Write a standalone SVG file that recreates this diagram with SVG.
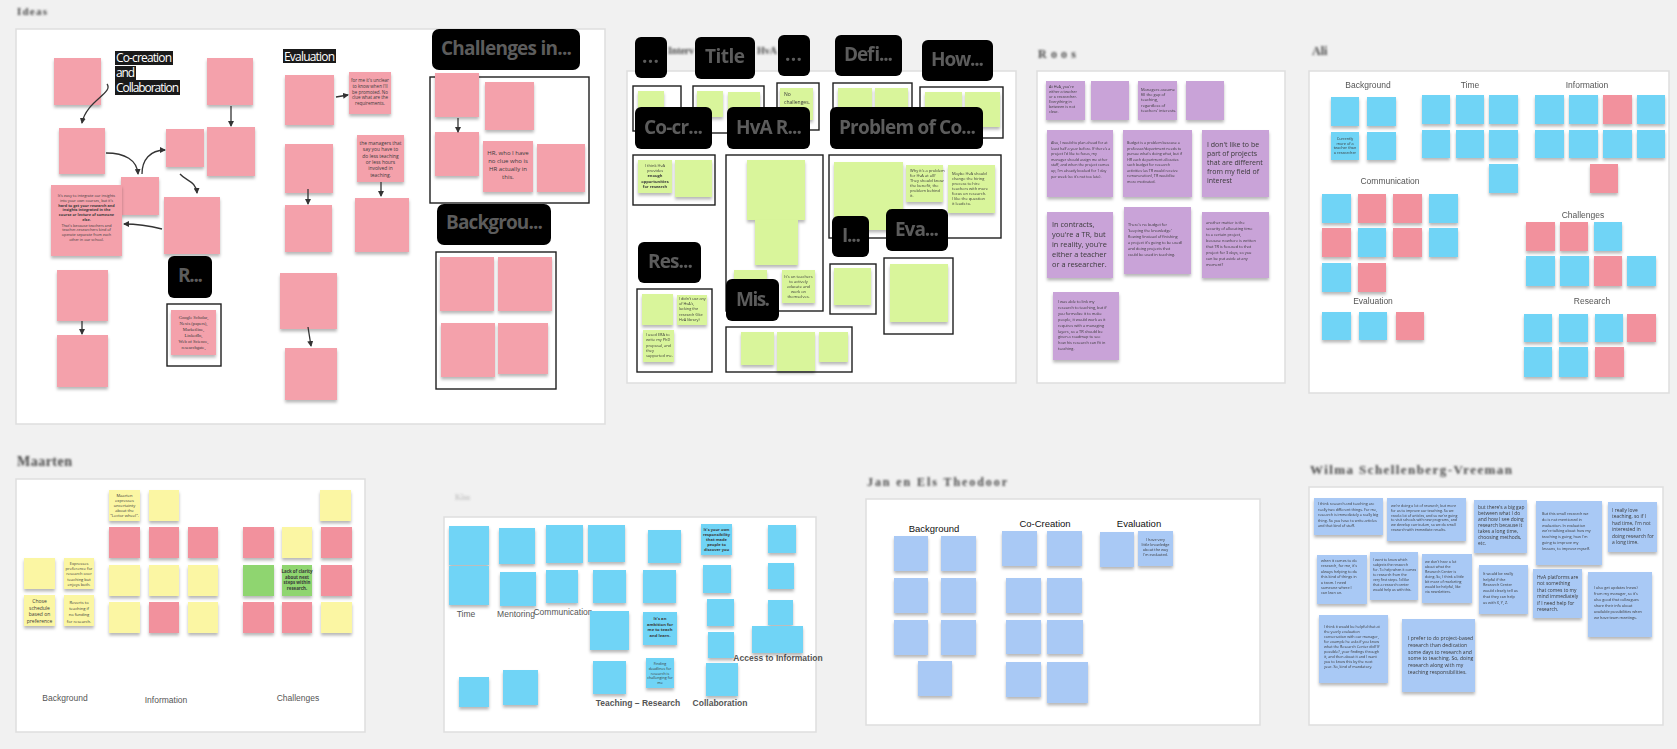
<svg xmlns="http://www.w3.org/2000/svg" width="1677" height="749" viewBox="0 0 1677 749">
<defs>
<style>
.bg{fill:#f1f1f1}
.bd{fill:#fff;stroke:#dedede;stroke-width:1.5}
.n{filter:url(#ds)}
.pk{fill:#f4a1ab}.pk2{fill:#f2919d}.gr{fill:#d9f59b}.pu{fill:#c9a3d8}.cy{fill:#6fd4f6}.lb{fill:#a9c9f5}.ye{fill:#fbf6a3}.gn{fill:#8fd570}
.fr{fill:none;stroke:#1e1e1e;stroke-width:1.4}
.bx{fill:#000}
.bt{fill:#5c5c5c;font-family:"Open Sans","Liberation Sans",sans-serif;font-weight:700;font-size:19px}
.hl{fill:#1a1a1a}
.ht{fill:#fff;font-family:"Open Sans","Liberation Sans",sans-serif;font-size:12px}
.lbl{fill:#555;font-family:"Liberation Sans",Arial,sans-serif;font-size:8.5px}
.lbk{fill:#111;font-family:"Liberation Sans",Arial,sans-serif;font-size:9.5px}
.t{fill:#3a3a3a;font-family:"Open Sans","Liberation Sans",sans-serif}
.ts{fill:#3a3a3a;font-family:"Liberation Serif","Times New Roman",serif}
.c{stroke:#333;stroke-width:1.3;fill:none;marker-end:url(#ah)}
.ttl{fill:#4a4a4a;font-family:"Liberation Serif","Times New Roman",serif;font-weight:700}
</style>
<filter id="ds" x="-20%" y="-20%" width="140%" height="150%"><feDropShadow dx="0" dy="2.5" stdDeviation="1.6" flood-color="#000" flood-opacity="0.28"/></filter>
<filter id="bl" x="-10%" y="-60%" width="120%" height="220%"><feGaussianBlur stdDeviation="1.1"/></filter>
<marker id="ah" markerWidth="6" markerHeight="6" refX="5" refY="3" orient="auto" markerUnits="userSpaceOnUse"><path d="M0,0 L6,3 L0,6 z" fill="#333"/></marker>
</defs>
<rect class="bg" x="0" y="0" width="1677" height="749"/>

<!-- board titles (blurred in reference) -->
<g id="titles" filter="url(#bl)">
<text class="ttl" x="17" y="15" font-size="11" textLength="30">Ideas</text>
<text class="ttl" x="668" y="54" font-size="10" textLength="26">Interv</text>
<text class="ttl" x="757" y="54" font-size="10" textLength="20">HvA</text>
<text class="ttl" x="1038" y="58" font-size="12" textLength="38">Roos</text>
<text class="ttl" x="1312" y="55" font-size="12">Ali</text>
<text class="ttl" x="17" y="466" font-size="14" textLength="55">Maarten</text>
<text class="ttl" x="455" y="500" font-size="8" opacity="0.25">Kim</text>
<text class="ttl" x="867" y="486" font-size="12" textLength="140">Jan en Els Theodoor</text>
<text class="ttl" x="1310" y="474" font-size="13" textLength="202">Wilma Schellenberg-Vreeman</text>
</g>

<!-- ================= BOARD 1 ================= -->
<g id="board1">
<rect class="bd" x="16" y="29" width="589" height="395"/>
<g id="b1-label-cocreation">
<rect class="hl" x="115" y="51" width="58" height="14"/><rect class="hl" x="115" y="66" width="21" height="14"/><rect class="hl" x="115" y="80" width="65" height="15"/>
<text class="ht" x="116" y="62" textLength="56">Co-creation</text>
<text class="ht" x="116" y="77" textLength="19">and</text>
<text class="ht" x="116" y="92" textLength="63">Collaboration</text>
</g>
<g id="b1-label-evaluation"><rect class="hl" x="283" y="49" width="53" height="14"/><text class="ht" x="284" y="60.5" textLength="51">Evaluation</text></g>
<g id="b1-n01"><rect class="n pk" x="54" y="58" width="47" height="47"/></g>
<g id="b1-n02"><rect class="n pk" x="59" y="128" width="46" height="46"/></g>
<g id="b1-n03"><rect class="n pk" x="207" y="58" width="46" height="47"/></g>
<g id="b1-n04"><rect class="n pk" x="207" y="127" width="48" height="49"/></g>
<g id="b1-n05"><rect class="n pk" x="166" y="129" width="38" height="38"/></g>
<g id="b1-n06"><rect class="n pk" x="121" y="177" width="38" height="38"/></g>
<g id="b1-n07"><rect class="n pk" x="51" y="185" width="71" height="71"/>
<text class="t" font-size="3.8" text-anchor="middle" x="86.5" y="197"><tspan x="86.5">It's easy to integrate our insights</tspan><tspan x="86.5" dy="4.8">into your own courses, but it's</tspan><tspan x="86.5" dy="4.8" font-weight="700">hard to get your research and</tspan><tspan x="86.5" dy="4.8" font-weight="700">insights integrated in the</tspan><tspan x="86.5" dy="4.8" font-weight="700">course or lecture of someone</tspan><tspan x="86.5" dy="4.8" font-weight="700">else.</tspan><tspan x="86.5" dy="5.6">That's because teachers and</tspan><tspan x="86.5" dy="4.8">teacher-researchers kind of</tspan><tspan x="86.5" dy="4.8">operate separate from each</tspan><tspan x="86.5" dy="4.8">other in our school.</tspan></text></g>
<g id="b1-n08"><rect class="n pk" x="164" y="197" width="56" height="57"/></g>
<g id="b1-n09"><rect class="n pk" x="57" y="270" width="51" height="51"/></g>
<g id="b1-n10"><rect class="n pk" x="57" y="335" width="51" height="52"/></g>
<g id="b1-box-r"><rect class="bx" x="168" y="256" width="44" height="42" rx="6"/><text class="bt" x="178" y="282" textLength="25">R...</text></g>
<g id="b1-frame-r"><rect class="fr" x="167" y="304" width="54" height="62"/>
<rect class="n pk" x="171" y="310" width="45" height="45"/>
<text class="ts" font-size="4.6" text-anchor="middle" x="193.5" y="319"><tspan x="193.5">Google Scholar,</tspan><tspan x="193.5" dy="6">Nexis (papers),</tspan><tspan x="193.5" dy="6">Marketline,</tspan><tspan x="193.5" dy="6">LinkedIn,</tspan><tspan x="193.5" dy="6">Web of Science,</tspan><tspan x="193.5" dy="6">researchgate,</tspan></text></g>
<g id="b1-n11"><rect class="n pk" x="285" y="75" width="49" height="50"/></g>
<g id="b1-n12"><rect class="n pk" x="349" y="72" width="42" height="42"/>
<text class="t" font-size="4.5" text-anchor="middle" x="370" y="82"><tspan x="370">for me it's unclear</tspan><tspan x="370" dy="5.8">to know when I'll</tspan><tspan x="370" dy="5.8">be promoted. No</tspan><tspan x="370" dy="5.8">clue what are the</tspan><tspan x="370" dy="5.8">requirements.</tspan></text></g>
<g id="b1-n13"><rect class="n pk" x="285" y="144" width="48" height="49"/></g>
<g id="b1-n14"><rect class="n pk" x="285" y="205" width="47" height="47"/></g>
<g id="b1-n15"><rect class="n pk" x="357" y="135" width="47" height="47"/>
<text class="t" font-size="4.9" text-anchor="middle" x="380.5" y="145"><tspan x="380.5">the managers that</tspan><tspan x="380.5" dy="6.3">say you have to</tspan><tspan x="380.5" dy="6.3">do less teaching</tspan><tspan x="380.5" dy="6.3">or less hours</tspan><tspan x="380.5" dy="6.3">involved in</tspan><tspan x="380.5" dy="6.3">teaching.</tspan></text></g>
<g id="b1-n16"><rect class="n pk" x="355" y="198" width="54" height="54"/></g>
<g id="b1-n17"><rect class="n pk" x="280" y="273" width="57" height="56"/></g>
<g id="b1-n18"><rect class="n pk" x="285" y="348" width="52" height="52"/></g>
<g id="b1-challenges">
<rect class="fr" x="430" y="77" width="159" height="126"/>
<rect class="n pk" x="435" y="73" width="44" height="44"/>
<rect class="n pk" x="485" y="82" width="49" height="48"/>
<rect class="n pk" x="435" y="132" width="44" height="44"/>
<rect class="n pk" x="483" y="141" width="50" height="51"/>
<text class="t" font-size="6" text-anchor="middle" x="508" y="155"><tspan x="508">HR, who I have</tspan><tspan x="508" dy="8">no clue who is</tspan><tspan x="508" dy="8">HR actually in</tspan><tspan x="508" dy="8">this.</tspan></text>
<rect class="n pk" x="537" y="144" width="48" height="48"/>
<rect class="bx" x="432" y="29" width="148" height="41" rx="7"/><text class="bt" x="441" y="55" textLength="131">Challenges in...</text>
</g>
<g id="b1-background">
<rect class="bx" x="437" y="204" width="114" height="41" rx="7"/><text class="bt" x="446" y="229" textLength="97">Backgrou...</text>
<rect class="fr" x="436" y="252" width="120" height="137"/>
<rect class="n pk" x="440" y="257" width="54" height="54"/>
<rect class="n pk" x="498" y="257" width="54" height="54"/>
<rect class="n pk" x="441" y="323" width="54" height="54"/>
<rect class="n pk" x="498" y="323" width="50" height="51"/>
</g>
</g>
<g id="b1-connectors">
<path class="c" d="M107,84 C114,93 86,101 82,123"/>
<path class="c" d="M106,153 C125,153 137,160 138,174"/>
<path class="c" d="M142,174 C142,160 150,150 165,150"/>
<path class="c" d="M180,174 C186,181 196,181 197,193"/>
<path class="c" d="M162,229 C150,226 136,224 124,224"/>
<path class="c" d="M231,106 L231,126"/>
<path class="c" d="M82,321 L82,334"/>
<path class="c" d="M336,97 L348,95"/>
<path class="c" d="M308,189 L308,204"/>
<path class="c" d="M381,182 L381,196"/>
<path class="c" d="M308,327 L311,346"/>
<path class="c" d="M458,118 L458,132"/>
</g>

<!-- ================= BOARD 2 ================= -->
<g id="board2">
<rect class="bd" x="627" y="71" width="389" height="312"/>
<g id="b2-frames">
<rect class="fr" x="633" y="86" width="48" height="45"/>
<rect class="fr" x="693" y="86" width="71" height="47"/>
<rect class="fr" x="777" y="83" width="42" height="47"/>
<rect class="fr" x="833" y="83" width="79" height="29"/>
<rect class="fr" x="920" y="87" width="83" height="51"/>
<rect class="fr" x="633" y="155" width="82" height="50"/>
<rect class="fr" x="726" y="155" width="97" height="156"/>
<rect class="fr" x="829" y="155" width="172" height="83"/>
<rect class="fr" x="830" y="264" width="46" height="50"/>
<rect class="fr" x="884" y="258" width="69" height="76"/>
<rect class="fr" x="637" y="289" width="75" height="83"/>
<rect class="fr" x="726" y="327" width="126" height="45"/>
</g>
<g id="b2-n01"><rect class="n gr" x="638" y="91" width="26" height="24"/></g>
<g id="b2-n02"><rect class="n gr" x="697" y="91" width="26" height="26"/></g>
<g id="b2-n03"><rect class="n gr" x="728" y="92" width="32" height="25"/></g>
<g id="b2-n04"><rect class="n gr" x="780" y="88" width="33" height="32"/><text class="t" font-size="5" x="784" y="96"><tspan x="784">No</tspan><tspan x="784" dy="7.5">challenges.</tspan></text></g>
<g id="b2-n05"><rect class="n gr" x="838" y="88" width="34" height="22"/></g>
<g id="b2-n06"><rect class="n gr" x="875" y="88" width="33" height="22"/></g>
<g id="b2-n07"><rect class="n gr" x="925" y="92" width="37" height="35"/></g>
<g id="b2-n08"><rect class="n gr" x="965" y="92" width="35" height="35"/></g>
<g id="b2-n09"><rect class="n gr" x="638" y="160" width="34" height="33"/><text class="t" font-size="4" text-anchor="middle" x="655" y="167"><tspan x="655">I think HvA</tspan><tspan x="655" dy="5.2">provides</tspan><tspan x="655" dy="5.2" font-weight="700">enough</tspan><tspan x="655" dy="5.2" font-weight="700">opportunities</tspan><tspan x="655" dy="5.2" font-weight="700">for research</tspan></text></g>
<g id="b2-n10"><rect class="n gr" x="675" y="160" width="37" height="37"/></g>
<g id="b2-n11"><rect class="n gr" x="747" y="160" width="58" height="60"/></g>
<g id="b2-n12"><rect class="n gr" x="755" y="220" width="43" height="45"/></g>
<g id="b2-n13"><rect class="n gr" x="734" y="270" width="33" height="17"/></g>
<g id="b2-n14"><rect class="n gr" x="782" y="270" width="33" height="33"/><text class="t" font-size="4" text-anchor="middle" x="798.5" y="278"><tspan x="798.5">It's on teachers</tspan><tspan x="798.5" dy="5">to actively</tspan><tspan x="798.5" dy="5">educate and</tspan><tspan x="798.5" dy="5">work on</tspan><tspan x="798.5" dy="5">themselves.</tspan></text></g>
<g id="b2-n15"><rect class="n gr" x="834" y="162" width="69" height="68"/></g>
<g id="b2-n16"><rect class="n gr" x="906" y="165" width="37" height="37"/><text class="t" font-size="4" x="910" y="172"><tspan x="910">Why it's a problem</tspan><tspan x="910" dy="5">for HvA at all?</tspan><tspan x="910" dy="5">They should know</tspan><tspan x="910" dy="5">the benefit, the</tspan><tspan x="910" dy="5">problem behind</tspan><tspan x="910" dy="5">it.</tspan></text></g>
<g id="b2-n17"><rect class="n gr" x="948" y="165" width="47" height="48"/><text class="t" font-size="4" x="952" y="175"><tspan x="952">Maybe HvA should</tspan><tspan x="952" dy="5">change the hiring</tspan><tspan x="952" dy="5">process to hire</tspan><tspan x="952" dy="5">teachers with more</tspan><tspan x="952" dy="5">focus on research.</tspan><tspan x="952" dy="5">I like the question</tspan><tspan x="952" dy="5">it leads to.</tspan></text></g>
<g id="b2-n18"><rect class="n gr" x="834" y="268" width="37" height="37"/></g>
<g id="b2-n19"><rect class="n gr" x="890" y="264" width="58" height="58"/></g>
<g id="b2-n20"><rect class="n gr" x="642" y="294" width="31" height="31"/></g>
<g id="b2-n21"><rect class="n gr" x="677" y="295" width="30" height="30"/><text class="t" font-size="3.8" x="679" y="300"><tspan x="679">I didn't use any</tspan><tspan x="679" dy="5.2">of HvA's,</tspan><tspan x="679" dy="5.2">lacking the</tspan><tspan x="679" dy="5.2">research (like</tspan><tspan x="679" dy="5.2">HvA library)</tspan></text></g>
<g id="b2-n22"><rect class="n gr" x="643" y="330" width="31" height="32"/><text class="t" font-size="3.9" x="646" y="336"><tspan x="646">I used ERA to</tspan><tspan x="646" dy="5.3">write my PhD</tspan><tspan x="646" dy="5.3">proposal, and</tspan><tspan x="646" dy="5.3">they</tspan><tspan x="646" dy="5.3">supported me.</tspan></text></g>
<g id="b2-n23"><rect class="n gr" x="741" y="332" width="33" height="33"/></g>
<g id="b2-n24"><rect class="n gr" x="777" y="332" width="38" height="39"/></g>
<g id="b2-n25"><rect class="n gr" x="819" y="332" width="29" height="30"/></g>
<g id="b2-boxes">
<rect class="bx" x="635" y="37" width="32" height="41" rx="6"/><text class="bt" x="642" y="63" textLength="17">...</text>
<rect class="bx" x="695" y="37" width="60" height="42" rx="6"/><text class="bt" x="705" y="63" textLength="40">Title</text>
<rect class="bx" x="778" y="35" width="32" height="41" rx="6"/><text class="bt" x="785" y="61" textLength="17">...</text>
<rect class="bx" x="835" y="35" width="67" height="41" rx="6"/><text class="bt" x="844" y="61" textLength="49">Defi...</text>
<rect class="bx" x="922" y="40" width="71" height="41" rx="6"/><text class="bt" x="931" y="66" textLength="53">How...</text>
<rect class="bx" x="635" y="107" width="77" height="42" rx="6"/><text class="bt" x="644" y="134" textLength="59">Co-cr...</text>
<rect class="bx" x="727" y="107" width="83" height="42" rx="6"/><text class="bt" x="736" y="134" textLength="66">HvA R...</text>
<rect class="bx" x="830" y="107" width="153" height="42" rx="6"/><text class="bt" x="839" y="134" textLength="137">Problem of Co...</text>
<rect class="bx" x="832" y="216" width="37" height="41" rx="6"/><text class="bt" x="842" y="242" textLength="19">I...</text>
<rect class="bx" x="886" y="209" width="62" height="42" rx="6"/><text class="bt" x="895" y="236" textLength="44">Eva...</text>
<rect class="bx" x="638" y="242" width="63" height="41" rx="6"/><text class="bt" x="648" y="268" textLength="45">Res...</text>
<rect class="bx" x="726" y="279" width="53" height="42" rx="6"/><text class="bt" x="736" y="306" textLength="34">Mis.</text>
</g>
</g>

<!-- ================= BOARD 3 ================= -->
<g id="board3">
<rect class="bd" x="1037" y="71" width="248" height="312"/>
<g id="b3-n01"><rect class="n pu" x="1046" y="81" width="39" height="39"/><text class="t" font-size="3.8" x="1049" y="88"><tspan x="1049">At HvA, you're</tspan><tspan x="1049" dy="5">either a teacher</tspan><tspan x="1049" dy="5">or a researcher.</tspan><tspan x="1049" dy="5">Everything in</tspan><tspan x="1049" dy="5">between is not</tspan><tspan x="1049" dy="5">clear.</tspan></text></g>
<g id="b3-n02"><rect class="n pu" x="1091" y="81" width="38" height="39"/></g>
<g id="b3-n03"><rect class="n pu" x="1138" y="81" width="39" height="39"/><text class="t" font-size="4" x="1141" y="91"><tspan x="1141">Managers assume</tspan><tspan x="1141" dy="5.2">fill the gap of</tspan><tspan x="1141" dy="5.2">teaching,</tspan><tspan x="1141" dy="5.2">regardless of</tspan><tspan x="1141" dy="5.2">teachers' interests.</tspan></text></g>
<g id="b3-n04"><rect class="n pu" x="1186" y="81" width="38" height="39"/></g>
<g id="b3-n05"><rect class="n pu" x="1047" y="130" width="66" height="67"/><text class="t" font-size="3.7" x="1051" y="144"><tspan x="1051">Also, I would to plan ahead for at</tspan><tspan x="1051" dy="5.6">least half a year before. If there's a</tspan><tspan x="1051" dy="5.6">project I'd like to focus, my</tspan><tspan x="1051" dy="5.6">manager should assign me other</tspan><tspan x="1051" dy="5.6">staff, and when the project comes</tspan><tspan x="1051" dy="5.6">up, I'm already booked for 1 day</tspan><tspan x="1051" dy="5.6">per week (so it's not too late).</tspan></text></g>
<g id="b3-n06"><rect class="n pu" x="1123" y="130" width="69" height="67"/><text class="t" font-size="3.7" x="1127" y="144"><tspan x="1127">Budget is a problem because a</tspan><tspan x="1127" dy="5.5">professor/department needs to</tspan><tspan x="1127" dy="5.5">pursue what's doing what, but if</tspan><tspan x="1127" dy="5.5">HR each department allocates</tspan><tspan x="1127" dy="5.5">such budget for research</tspan><tspan x="1127" dy="5.5">activities (as TR would receive</tspan><tspan x="1127" dy="5.5">remuneration), TR would be</tspan><tspan x="1127" dy="5.5">more motivated.</tspan></text></g>
<g id="b3-n07"><rect class="n pu" x="1202" y="130" width="67" height="67"/><text class="t" font-size="7" x="1207" y="147"><tspan x="1207">I don't like to be</tspan><tspan x="1207" dy="9">part of projects</tspan><tspan x="1207" dy="9">that are different</tspan><tspan x="1207" dy="9">from my field of</tspan><tspan x="1207" dy="9">interest</tspan></text></g>
<g id="b3-n08"><rect class="n pu" x="1047" y="212" width="66" height="66"/><text class="t" font-size="7.4" x="1052" y="227"><tspan x="1052">In contracts,</tspan><tspan x="1052" dy="10">you're a TR, but</tspan><tspan x="1052" dy="10">in reality, you're</tspan><tspan x="1052" dy="10">either a teacher</tspan><tspan x="1052" dy="10">or a researcher.</tspan></text></g>
<g id="b3-n09"><rect class="n pu" x="1124" y="207" width="67" height="67"/><text class="t" font-size="3.9" x="1128" y="226"><tspan x="1128">There's no budget for</tspan><tspan x="1128" dy="6">'keeping the knowledge'</tspan><tspan x="1128" dy="6">flowing (instead of finishing</tspan><tspan x="1128" dy="6">a project it's going to be used)</tspan><tspan x="1128" dy="6">and doing projects that</tspan><tspan x="1128" dy="6">could be used in teaching.</tspan></text></g>
<g id="b3-n10"><rect class="n pu" x="1202" y="212" width="67" height="66"/><text class="t" font-size="3.9" x="1206" y="224"><tspan x="1206">another matter is the</tspan><tspan x="1206" dy="6">security of allocating time</tspan><tspan x="1206" dy="6">to a certain project,</tspan><tspan x="1206" dy="6">because nowhere is written</tspan><tspan x="1206" dy="6">that TR is focused to that</tspan><tspan x="1206" dy="6">project for 3 days, so you</tspan><tspan x="1206" dy="6">can be put aside at any</tspan><tspan x="1206" dy="6">moment?</tspan></text></g>
<g id="b3-n11"><rect class="n pu" x="1053" y="292" width="66" height="68"/><text class="t" font-size="3.9" x="1058" y="303"><tspan x="1058">I was able to link my</tspan><tspan x="1058" dy="5.9">research to teaching, but if</tspan><tspan x="1058" dy="5.9">you formalize it to make</tspan><tspan x="1058" dy="5.9">people, it would work as it</tspan><tspan x="1058" dy="5.9">requires with a managing</tspan><tspan x="1058" dy="5.9">layers, so a TR should be</tspan><tspan x="1058" dy="5.9">given a roadmap to see</tspan><tspan x="1058" dy="5.9">how his research can fit in</tspan><tspan x="1058" dy="5.9">teaching.</tspan></text></g>
</g>

<!-- ================= BOARD 4 ================= -->
<g id="board4">
<rect class="bd" x="1309" y="71" width="360" height="322"/>
<g id="b4-labels">
<text class="lbl" x="1368" y="88" text-anchor="middle">Background</text>
<text class="lbl" x="1470" y="88" text-anchor="middle">Time</text>
<text class="lbl" x="1587" y="88" text-anchor="middle">Information</text>
<text class="lbl" x="1390" y="184" text-anchor="middle">Communication</text>
<text class="lbl" x="1583" y="218" text-anchor="middle">Challenges</text>
<text class="lbl" x="1373" y="304" text-anchor="middle">Evaluation</text>
<text class="lbl" x="1592" y="304" text-anchor="middle">Research</text>
</g>
<g id="b4-background">
<rect class="n cy" x="1331" y="97" width="28" height="29"/>
<rect class="n cy" x="1367" y="97" width="29" height="29"/>
<rect class="n cy" x="1331" y="132" width="28" height="28"/>
<text class="t" font-size="3.8" text-anchor="middle" x="1345" y="140"><tspan x="1345">Currently</tspan><tspan x="1345" dy="4.7">more of a</tspan><tspan x="1345" dy="4.7">teacher than</tspan><tspan x="1345" dy="4.7">a researcher</tspan></text>
<rect class="n cy" x="1367" y="132" width="29" height="28"/>
</g>
<g id="b4-time">
<rect class="n cy" x="1422" y="95" width="28" height="29"/>
<rect class="n cy" x="1456" y="95" width="28" height="29"/>
<rect class="n cy" x="1489" y="95" width="29" height="29"/>
<rect class="n cy" x="1422" y="130" width="28" height="28"/>
<rect class="n cy" x="1456" y="130" width="28" height="28"/>
<rect class="n cy" x="1489" y="130" width="29" height="28"/>
<rect class="n cy" x="1489" y="164" width="29" height="29"/>
</g>
<g id="b4-information">
<rect class="n cy" x="1535" y="95" width="29" height="29"/>
<rect class="n cy" x="1569" y="95" width="29" height="29"/>
<rect class="n pk2" x="1603" y="95" width="29" height="29"/>
<rect class="n cy" x="1637" y="95" width="28" height="29"/>
<rect class="n cy" x="1535" y="130" width="29" height="28"/>
<rect class="n cy" x="1569" y="130" width="29" height="28"/>
<rect class="n cy" x="1603" y="130" width="29" height="28"/>
<rect class="n cy" x="1637" y="130" width="28" height="28"/>
<rect class="n pk2" x="1590" y="164" width="28" height="29"/>
</g>
<g id="b4-communication">
<rect class="n cy" x="1322" y="194" width="29" height="29"/>
<rect class="n pk2" x="1358" y="194" width="28" height="29"/>
<rect class="n pk2" x="1393" y="194" width="29" height="29"/>
<rect class="n cy" x="1429" y="194" width="29" height="29"/>
<rect class="n pk2" x="1322" y="228" width="29" height="29"/>
<rect class="n cy" x="1358" y="228" width="28" height="29"/>
<rect class="n pk2" x="1393" y="228" width="29" height="29"/>
<rect class="n cy" x="1429" y="228" width="29" height="29"/>
<rect class="n cy" x="1322" y="263" width="29" height="29"/>
<rect class="n pk2" x="1358" y="263" width="28" height="29"/>
</g>
<g id="b4-challenges">
<rect class="n pk2" x="1526" y="222" width="29" height="29"/>
<rect class="n pk2" x="1560" y="222" width="28" height="29"/>
<rect class="n cy" x="1594" y="222" width="28" height="29"/>
<rect class="n cy" x="1526" y="256" width="29" height="30"/>
<rect class="n cy" x="1560" y="256" width="29" height="30"/>
<rect class="n pk2" x="1594" y="256" width="28" height="30"/>
<rect class="n cy" x="1627" y="256" width="29" height="30"/>
</g>
<g id="b4-evaluation">
<rect class="n cy" x="1322" y="312" width="29" height="28"/>
<rect class="n cy" x="1359" y="312" width="28" height="28"/>
<rect class="n pk2" x="1396" y="312" width="28" height="28"/>
</g>
<g id="b4-research">
<rect class="n cy" x="1524" y="314" width="28" height="28"/>
<rect class="n cy" x="1559" y="314" width="29" height="28"/>
<rect class="n cy" x="1595" y="314" width="28" height="28"/>
<rect class="n pk2" x="1627" y="314" width="29" height="28"/>
<rect class="n cy" x="1524" y="347" width="28" height="30"/>
<rect class="n cy" x="1559" y="347" width="29" height="30"/>
<rect class="n pk2" x="1595" y="347" width="29" height="30"/>
</g>
</g>

<!-- ================= BOARD 5 ================= -->
<g id="board5">
<rect class="bd" x="16" y="479" width="349" height="253"/>
<g id="b5-labels">
<text class="lbl" fill="#444" x="65" y="701" text-anchor="middle">Background</text>
<text class="lbl" fill="#444" x="166" y="703" text-anchor="middle">Information</text>
<text class="lbl" fill="#444" x="298" y="701" text-anchor="middle">Challenges</text>
</g>
<g id="b5-background">
<rect class="n ye" x="24" y="558" width="31" height="31"/>
<rect class="n ye" x="64" y="558" width="30" height="31"/>
<text class="t" font-size="4" text-anchor="middle" x="79" y="565"><tspan x="79">Expresses</tspan><tspan x="79" dy="5.2">preference for</tspan><tspan x="79" dy="5.2">research over</tspan><tspan x="79" dy="5.2">teaching but</tspan><tspan x="79" dy="5.2">enjoys both.</tspan></text>
<rect class="n ye" x="24" y="595" width="31" height="31"/>
<text class="t" font-size="5" text-anchor="middle" x="39.5" y="603"><tspan x="39.5">Chose</tspan><tspan x="39.5" dy="6.5">schedule</tspan><tspan x="39.5" dy="6.5">based on</tspan><tspan x="39.5" dy="6.5">preference</tspan></text>
<rect class="n ye" x="64" y="595" width="30" height="31"/>
<text class="t" font-size="4.1" text-anchor="middle" x="79" y="604"><tspan x="79">Reverts to</tspan><tspan x="79" dy="6.2">teaching if</tspan><tspan x="79" dy="6.2">no funding</tspan><tspan x="79" dy="6.2">for research.</tspan></text>
</g>
<g id="b5-information">
<rect class="n ye" x="109" y="490" width="31" height="31"/>
<text class="t" font-size="4.1" text-anchor="middle" x="124.5" y="497"><tspan x="124.5">Maarten</tspan><tspan x="124.5" dy="5">expresses</tspan><tspan x="124.5" dy="5">uncertainty</tspan><tspan x="124.5" dy="5">about the</tspan><tspan x="124.5" dy="5">"Lector wheel".</tspan></text>
<rect class="n ye" x="149" y="490" width="30" height="31"/>
<rect class="n pk2" x="109" y="527" width="31" height="31"/>
<rect class="n pk2" x="149" y="527" width="30" height="31"/>
<rect class="n pk2" x="188" y="527" width="30" height="31"/>
<rect class="n ye" x="109" y="565" width="31" height="31"/>
<rect class="n ye" x="149" y="565" width="30" height="31"/>
<rect class="n ye" x="188" y="565" width="30" height="31"/>
<rect class="n ye" x="109" y="602" width="31" height="31"/>
<rect class="n pk2" x="149" y="602" width="30" height="31"/>
<rect class="n ye" x="188" y="602" width="30" height="31"/>
</g>
<g id="b5-challenges">
<rect class="n ye" x="320" y="490" width="31" height="31"/>
<rect class="n pk2" x="243" y="527" width="31" height="31"/>
<rect class="n ye" x="282" y="527" width="30" height="31"/>
<rect class="n pk2" x="321" y="527" width="31" height="31"/>
<rect class="n gn" x="243" y="565" width="31" height="31"/>
<rect class="n gn" x="282" y="565" width="30" height="31"/>
<text class="t" font-size="4.4" text-anchor="middle" x="297" y="573" font-weight="700"><tspan x="297">Lack of clarity</tspan><tspan x="297" dy="5.5">about next</tspan><tspan x="297" dy="5.5">steps within</tspan><tspan x="297" dy="5.5">research.</tspan></text>
<rect class="n pk2" x="321" y="565" width="31" height="31"/>
<rect class="n pk2" x="243" y="602" width="31" height="31"/>
<rect class="n pk2" x="282" y="602" width="30" height="31"/>
<rect class="n ye" x="321" y="602" width="31" height="31"/>
</g>
</g>

<!-- ================= BOARD 6 ================= -->
<g id="board6">
<rect class="bd" x="444" y="517" width="372" height="215"/>
<g id="b6-labels">
<text class="lbl" font-size="6.8" x="466" y="617" text-anchor="middle">Time</text>
<text class="lbl" font-size="6.8" x="516" y="617" text-anchor="middle">Mentoring</text>
<text class="lbl" font-size="6.8" x="563" y="615" text-anchor="middle">Communication</text>
<text class="lbl" font-size="6.3" fill="#222" font-weight="700" x="638" y="706" text-anchor="middle">Teaching – Research</text>
<text class="lbl" font-size="6.3" fill="#222" font-weight="700" x="720" y="706" text-anchor="middle">Collaboration</text>
<text class="lbl" font-size="6.3" fill="#222" font-weight="700" x="778" y="661" text-anchor="middle">Access to Information</text>
</g>
<g id="b6-time">
<rect class="n cy" x="449" y="526" width="40" height="39"/>
<rect class="n cy" x="449" y="566" width="40" height="39"/>
<rect class="n cy" x="459" y="677" width="30" height="30"/>
</g>
<g id="b6-mentoring">
<rect class="n cy" x="499" y="528" width="36" height="36"/>
<rect class="n cy" x="500" y="572" width="36" height="34"/>
<rect class="n cy" x="503" y="670" width="35" height="35"/>
</g>
<g id="b6-communication">
<rect class="n cy" x="546" y="525" width="37" height="38"/>
<rect class="n cy" x="546" y="570" width="32" height="33"/>
</g>
<g id="b6-teaching-research">
<rect class="n cy" x="588" y="525" width="37" height="37"/>
<rect class="n cy" x="593" y="570" width="33" height="33"/>
<rect class="n cy" x="590" y="611" width="39" height="39"/>
<rect class="n cy" x="593" y="661" width="33" height="33"/>
<rect class="n cy" x="648" y="530" width="33" height="33"/>
<rect class="n cy" x="643" y="570" width="33" height="33"/>
<rect class="n cy" x="643" y="612" width="34" height="33"/>
<text class="t" font-size="4.2" text-anchor="middle" x="660" y="620" font-weight="700"><tspan x="660">It's an</tspan><tspan x="660" dy="5.5">ambition for</tspan><tspan x="660" dy="5.5">me to teach</tspan><tspan x="660" dy="5.5">and learn.</tspan></text>
<rect class="n cy" x="646" y="658" width="28" height="30"/>
<text class="t" font-size="3.7" text-anchor="middle" x="660" y="665"><tspan x="660">Finding</tspan><tspan x="660" dy="4.8">deadlines for</tspan><tspan x="660" dy="4.8">research is</tspan><tspan x="660" dy="4.8">challenging for</tspan><tspan x="660" dy="4.8">me</tspan></text>
</g>
<g id="b6-collaboration">
<rect class="n cy" x="701" y="524" width="31" height="31"/>
<text class="t" font-size="4" text-anchor="middle" x="716.5" y="531" font-weight="700"><tspan x="716.5">It's your own</tspan><tspan x="716.5" dy="5">responsibility</tspan><tspan x="716.5" dy="5">that made</tspan><tspan x="716.5" dy="5">people to</tspan><tspan x="716.5" dy="5">discover you</tspan></text>
<rect class="n cy" x="703" y="565" width="28" height="28"/>
<rect class="n cy" x="707" y="599" width="27" height="27"/>
<rect class="n cy" x="708" y="632" width="26" height="26"/>
<rect class="n cy" x="706" y="663" width="32" height="33"/>
</g>
<g id="b6-access">
<rect class="n cy" x="768" y="525" width="28" height="28"/>
<rect class="n cy" x="768" y="563" width="26" height="26"/>
<rect class="n cy" x="768" y="600" width="25" height="25"/>
<rect class="n cy" x="752" y="626" width="51" height="27"/>
</g>
</g>

<!-- ================= BOARD 7 ================= -->
<g id="board7">
<rect class="bd" x="866" y="499" width="394" height="226"/>
<g id="b7-labels">
<text class="lbk" x="934" y="532" text-anchor="middle">Background</text>
<text class="lbk" x="1045" y="527" text-anchor="middle">Co-Creation</text>
<text class="lbk" x="1139" y="527" text-anchor="middle">Evaluation</text>
</g>
<g id="b7-background">
<rect class="n lb" x="894" y="536" width="34" height="35"/>
<rect class="n lb" x="941" y="536" width="35" height="35"/>
<rect class="n lb" x="894" y="578" width="34" height="35"/>
<rect class="n lb" x="941" y="578" width="35" height="35"/>
<rect class="n lb" x="894" y="620" width="34" height="35"/>
<rect class="n lb" x="941" y="620" width="35" height="35"/>
<rect class="n lb" x="918" y="661" width="34" height="35"/>
</g>
<g id="b7-cocreation">
<rect class="n lb" x="1002" y="531" width="35" height="35"/>
<rect class="n lb" x="1047" y="531" width="35" height="35"/>
<rect class="n lb" x="1006" y="578" width="35" height="35"/>
<rect class="n lb" x="1047" y="578" width="35" height="35"/>
<rect class="n lb" x="1006" y="620" width="35" height="34"/>
<rect class="n lb" x="1047" y="620" width="36" height="34"/>
<rect class="n lb" x="1006" y="662" width="35" height="35"/>
<rect class="n lb" x="1047" y="662" width="41" height="41"/>
</g>
<g id="b7-evaluation">
<rect class="n lb" x="1100" y="532" width="34" height="35"/>
<rect class="n lb" x="1138" y="531" width="35" height="35"/>
<text class="t" font-size="3.8" text-anchor="middle" x="1155.5" y="541"><tspan x="1155.5">I have very</tspan><tspan x="1155.5" dy="5">little knowledge</tspan><tspan x="1155.5" dy="5">about the way</tspan><tspan x="1155.5" dy="5">I'm evaluated.</tspan></text>
</g>
</g>

<!-- ================= BOARD 8 ================= -->
<g id="board8">
<rect class="bd" x="1309" y="487" width="354" height="238"/>
<g id="b8-n01"><rect class="n lb" x="1314" y="498" width="69" height="37"/><text class="t" font-size="3.7" x="1318" y="505"><tspan x="1318">I think research and teaching are</tspan><tspan x="1318" dy="5.6">really two different things. For me,</tspan><tspan x="1318" dy="5.6">research is immediately a really big</tspan><tspan x="1318" dy="5.6">thing. So you have to write articles</tspan><tspan x="1318" dy="5.6">and that kind of stuff.</tspan></text></g>
<g id="b8-n02"><rect class="n lb" x="1387" y="498" width="79" height="43"/><text class="t" font-size="3.6" x="1391" y="507"><tspan x="1391">we're doing a lot of research, but more</tspan><tspan x="1391" dy="4.8">for us to improve our teaching. So we</tspan><tspan x="1391" dy="4.8">read a lot of articles, and so we're going</tspan><tspan x="1391" dy="4.8">to visit schools with new programs, and</tspan><tspan x="1391" dy="4.8">we develop curriculum, so we do small</tspan><tspan x="1391" dy="4.8">research with immediate results.</tspan></text></g>
<g id="b8-n03"><rect class="n lb" x="1474" y="500" width="53" height="53"/><text class="t" font-size="4.9" x="1478" y="509"><tspan x="1478">but there's a big gap</tspan><tspan x="1478" dy="6">between what I do</tspan><tspan x="1478" dy="6">and how I see doing</tspan><tspan x="1478" dy="6">research because it</tspan><tspan x="1478" dy="6">takes a long time,</tspan><tspan x="1478" dy="6">choosing methods,</tspan><tspan x="1478" dy="6">etc.</tspan></text></g>
<g id="b8-n04"><rect class="n lb" x="1536" y="501" width="66" height="64"/><text class="t" font-size="3.8" x="1542" y="515"><tspan x="1542">But this small research we</tspan><tspan x="1542" dy="5.8">do is not mentioned in</tspan><tspan x="1542" dy="5.8">evaluation. In evaluation</tspan><tspan x="1542" dy="5.8">we're talking about how my</tspan><tspan x="1542" dy="5.8">teaching is going, how I'm</tspan><tspan x="1542" dy="5.8">going to improve my</tspan><tspan x="1542" dy="5.8">lessons, to improve myself.</tspan></text></g>
<g id="b8-n05"><rect class="n lb" x="1608" y="502" width="49" height="50"/><text class="t" font-size="4.9" x="1612" y="512"><tspan x="1612">I really love</tspan><tspan x="1612" dy="6.4">teaching, so if I</tspan><tspan x="1612" dy="6.4">had time, I'm not</tspan><tspan x="1612" dy="6.4">interested in</tspan><tspan x="1612" dy="6.4">doing research for</tspan><tspan x="1612" dy="6.4">a long time.</tspan></text></g>
<g id="b8-n06"><rect class="n lb" x="1317" y="555" width="50" height="49"/><text class="t" font-size="3.8" x="1321" y="562"><tspan x="1321">when it comes to do</tspan><tspan x="1321" dy="5.4">research, for me, it's</tspan><tspan x="1321" dy="5.4">always helping to do</tspan><tspan x="1321" dy="5.4">this kind of things in</tspan><tspan x="1321" dy="5.4">a team. I need</tspan><tspan x="1321" dy="5.4">someone where I</tspan><tspan x="1321" dy="5.4">can lean on.</tspan></text></g>
<g id="b8-n07"><rect class="n lb" x="1370" y="552" width="48" height="48"/><text class="t" font-size="3.5" x="1373" y="561"><tspan x="1373">I want to know which</tspan><tspan x="1373" dy="5">subjects the research</tspan><tspan x="1373" dy="5">for. To help when it comes</tspan><tspan x="1373" dy="5">to research from the</tspan><tspan x="1373" dy="5">very first steps. I'd like</tspan><tspan x="1373" dy="5">that a research center</tspan><tspan x="1373" dy="5">would help us with this.</tspan></text></g>
<g id="b8-n08"><rect class="n lb" x="1422" y="554" width="50" height="49"/><text class="t" font-size="3.6" x="1425" y="563"><tspan x="1425">we don't hear a lot</tspan><tspan x="1425" dy="5">about what the</tspan><tspan x="1425" dy="5">Research Center is</tspan><tspan x="1425" dy="5">doing. So, I think a little</tspan><tspan x="1425" dy="5">bit more of marketing</tspan><tspan x="1425" dy="5">would be helpful, like</tspan><tspan x="1425" dy="5">via newsletters.</tspan></text></g>
<g id="b8-n09"><rect class="n lb" x="1479" y="565" width="49" height="49"/><text class="t" font-size="3.8" x="1483" y="575"><tspan x="1483">It would be really</tspan><tspan x="1483" dy="5.7">helpful if the</tspan><tspan x="1483" dy="5.7">Research Center</tspan><tspan x="1483" dy="5.7">would clearly tell us</tspan><tspan x="1483" dy="5.7">that they can help</tspan><tspan x="1483" dy="5.7">us with X, Y, Z.</tspan></text></g>
<g id="b8-n10"><rect class="n lb" x="1533" y="569" width="49" height="49"/><text class="t" font-size="4.9" x="1537" y="579"><tspan x="1537">HvA platforms are</tspan><tspan x="1537" dy="6.4">not something</tspan><tspan x="1537" dy="6.4">that comes to my</tspan><tspan x="1537" dy="6.4">mind immediately</tspan><tspan x="1537" dy="6.4">if I need help for</tspan><tspan x="1537" dy="6.4">research.</tspan></text></g>
<g id="b8-n11"><rect class="n lb" x="1588" y="572" width="64" height="65"/><text class="t" font-size="3.8" x="1594" y="589"><tspan x="1594">I also get updates (news)</tspan><tspan x="1594" dy="6">from my manager, so it's</tspan><tspan x="1594" dy="6">also good that colleagues</tspan><tspan x="1594" dy="6">share their info about</tspan><tspan x="1594" dy="6">available possibilities when</tspan><tspan x="1594" dy="6">we have team meetings.</tspan></text></g>
<g id="b8-n12"><rect class="n lb" x="1319" y="615" width="69" height="68"/><text class="t" font-size="3.7" x="1324" y="628"><tspan x="1324">I think it would be helpful that at</tspan><tspan x="1324" dy="5">the yearly evaluation</tspan><tspan x="1324" dy="5">conversation with our manager,</tspan><tspan x="1324" dy="5">for example he asks if you know</tspan><tspan x="1324" dy="5">what the Research Center did? If</tspan><tspan x="1324" dy="5">possible?, your findings through</tspan><tspan x="1324" dy="5">it, and then about it and I want</tspan><tspan x="1324" dy="5">you to know this by the next</tspan><tspan x="1324" dy="5">year. So, kind of mandatory.</tspan></text></g>
<g id="b8-n13"><rect class="n lb" x="1402" y="619" width="73" height="73"/><text class="t" font-size="5.1" x="1408" y="640"><tspan x="1408">I prefer to do project-based</tspan><tspan x="1408" dy="6.8">research than dedication</tspan><tspan x="1408" dy="6.8">some days to research and</tspan><tspan x="1408" dy="6.8">some to teaching. So, doing</tspan><tspan x="1408" dy="6.8">research along with my</tspan><tspan x="1408" dy="6.8">teaching responsibilities.</tspan></text></g>
</g>
</svg>
